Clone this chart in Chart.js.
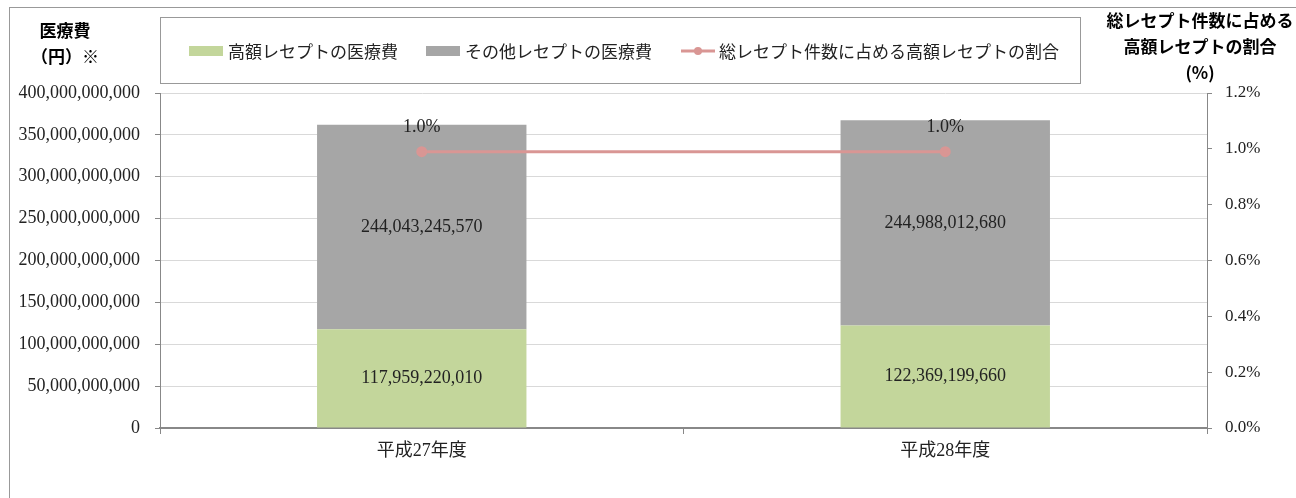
<!DOCTYPE html>
<html>
<head>
<meta charset="utf-8">
<script src="https://cdn.jsdelivr.net/npm/chart.js@4"></script>
<style>
    body{
        margin:0;
        width:1296px;
        height:498px;
        background:#fff;
        position:relative;
        overflow:hidden;
        font-family:"Liberation Serif","Noto Sans CJK JP",serif;
    }
    #frame{
        position:absolute;
        left:9px;
        top:7px;
        width:1300px;
        height:500px;
        border-left:1px solid #999;
        border-top:1px solid #999;
    }
    #chartBox{
        position:absolute;
        left:0;
        top:0;
        width:1296px;
        height:498px;
    }
    .title{
        position:absolute;
        font-family:"Noto Sans CJK JP",sans-serif;
        font-weight:bold;
        font-size:17px;
        line-height:26px;
        text-align:center;
        color:#000;
    }
    #legend{
        position:absolute;
        left:160px;
        top:17px;
        width:919px;
        height:65px;
        border:1px solid #999;
        background:#fff;
    }
    .item{
        position:absolute;
        top:22px;
        font-family:"Noto Sans CJK JP",sans-serif;
        font-size:17px;
        line-height:22px;
        color:#222;
        white-space:nowrap;
    }
    .swatch{
        position:absolute;
        top:28px;
        width:34px;
        height:10px;
    }
</style>
</head>
<body>

<div id="frame"></div>

<div id="chartBox">
    <canvas id="barChart" width="1296" height="498"></canvas>
</div>

<div class="title" style="left:20px;top:17px;width:90px;">医療費<br>（円）※</div>
<div class="title" style="left:1100px;top:7px;width:200px;">総レセプト件数に占める<br>高額レセプトの割合<br>(%)</div>

<div id="legend">
    <div class="swatch" id="sw1" style="left:28px;"></div>
    <div class="item" style="left:67px;">高額レセプトの医療費</div>
    <div class="swatch" id="sw2" style="left:265px;"></div>
    <div class="item" style="left:304px;">その他レセプトの医療費</div>
    <canvas id="lineKey" width="34" height="14" style="position:absolute;left:520px;top:26px;"></canvas>
    <div class="item" style="left:558px;">総レセプト件数に占める高額レセプトの割合</div>
</div>

<script>
const categories = ["平成27年度", "平成28年度"];
const highCost = [117959220010, 122369199660];
const otherCost = [244043245570, 244988012680];
const highShare = [0.99, 0.99];

const costMax = 400000000000;
const costStep = 50000000000;
const shareMax = 1.2;
const shareStep = 0.2;

const greenColor = "#c3d69b";
const grayColor = "#a6a6a6";
const lineColor = "#d99694";

document.getElementById("sw1").style.background = greenColor;
document.getElementById("sw2").style.background = grayColor;

// small line + dot for the legend
const keyCtx = document.getElementById("lineKey").getContext("2d");
keyCtx.strokeStyle = lineColor;
keyCtx.lineWidth = 3;
keyCtx.beginPath();
keyCtx.moveTo(0,7);
keyCtx.lineTo(34,7);
keyCtx.stroke();
keyCtx.fillStyle = lineColor;
keyCtx.beginPath();
keyCtx.arc(17,7,4,0,Math.PI*2);
keyCtx.fill();

const labelFont = "18px 'Liberation Serif', 'Noto Sans CJK JP', serif";

const valueLabels = {
    id:"valueLabels",
    afterDatasetsDraw(chart){
        const ctx = chart.ctx;
        ctx.save();
        ctx.font = labelFont;
        ctx.fillStyle = "#222";
        ctx.textAlign = "center";
        ctx.textBaseline = "middle";
        chart.data.datasets.forEach((dataset,i)=>{
            const meta = chart.getDatasetMeta(i);
            meta.data.forEach((el,j)=>{
                const v = dataset.data[j];
                if(dataset.type === "line"){
                    ctx.fillText(v.toFixed(1) + "%", el.x, el.y - 24);
                }else{
                    const mid = (el.y + el.base) / 2;
                    ctx.fillText(v.toLocaleString("en-US"), el.x, mid);
                }
            });
        });
        ctx.restore();
    }
};

new Chart(
    document.getElementById("barChart"),
    {
        type:"bar",
        data:{
            labels:categories,
            datasets:[
                {
                    type:"line",
                    label:"総レセプト件数に占める高額レセプトの割合",
                    data:highShare,
                    yAxisID:"y1",
                    borderColor:lineColor,
                    backgroundColor:lineColor,
                    borderWidth:3,
                    pointRadius:4,
                    pointHoverRadius:4,
                    order:0
                },
                {
                    label:"高額レセプトの医療費",
                    data:highCost,
                    backgroundColor:greenColor,
                    borderWidth:0,
                    order:1
                },
                {
                    label:"その他レセプトの医療費",
                    data:otherCost,
                    backgroundColor:grayColor,
                    borderWidth:0,
                    order:1
                }
            ]
        },
        options:{
            responsive:false,
            animation:false,
            categoryPercentage:1,
            barPercentage:0.4,
            layout:{
                padding:{top:93, left:0, right:0, bottom:0}
            },
            plugins:{
                legend:{display:false},
                tooltip:{enabled:false}
            },
            scales:{
                x:{
                    stacked:true,
                    offset:true,
                    grid:{
                        offset:true,
                        drawOnChartArea:false,
                        drawTicks:true,
                        tickLength:6,
                        tickColor:"#888"
                    },
                    border:{color:"#888", width:2},
                    ticks:{
                        color:"#222",
                        padding:6,
                        font:{family:"'Liberation Serif', 'Noto Sans CJK JP', serif", size:18}
                    },
                    afterFit(scale){
                        scale.height = 70;
                    }
                },
                y:{
                    stacked:true,
                    min:0,
                    max:costMax,
                    position:"left",
                    grid:{
                        color:"#d9d9d9",
                        tickColor:"#888",
                        tickLength:5
                    },
                    border:{color:"#888", width:1},
                    ticks:{
                        stepSize:costStep,
                        color:"#222",
                        padding:15,
                        font:{family:"'Liberation Serif', serif", size:18},
                        callback:value => value.toLocaleString("en-US")
                    },
                    afterFit(scale){
                        scale.width = 160;
                    }
                },
                y1:{
                    min:0,
                    max:shareMax,
                    position:"right",
                    grid:{
                        drawOnChartArea:false,
                        tickColor:"#888",
                        tickLength:5
                    },
                    border:{color:"#888", width:1},
                    ticks:{
                        stepSize:shareStep,
                        color:"#222",
                        padding:13,
                        font:{family:"'Liberation Serif', serif", size:17},
                        callback:value => value.toFixed(1) + "%"
                    },
                    afterFit(scale){
                        scale.width = 89;
                    }
                }
            }
        },
        plugins:[valueLabels]
    }
);
</script>
</body>
</html>
